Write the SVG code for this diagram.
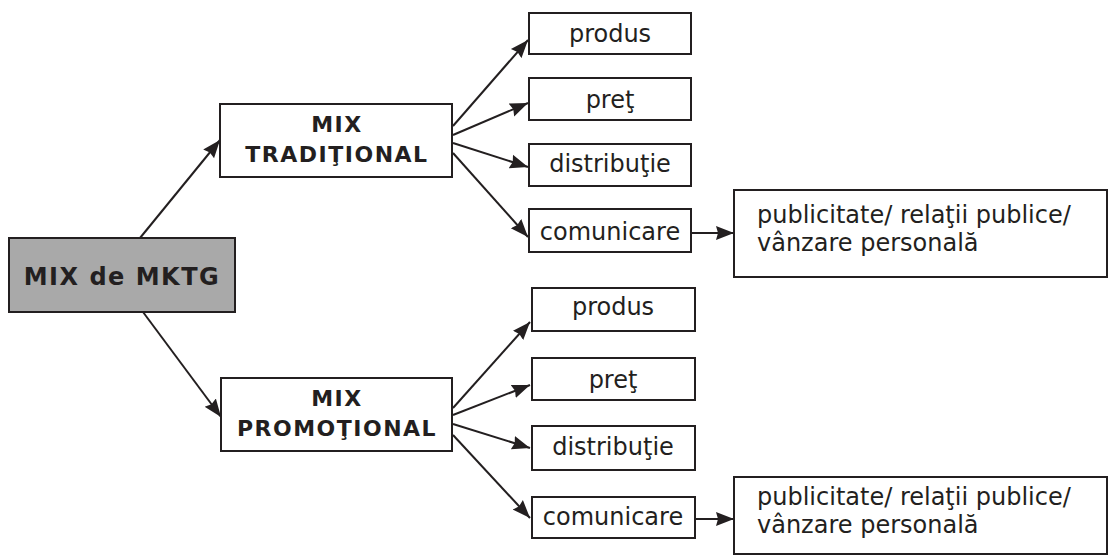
<svg xmlns="http://www.w3.org/2000/svg" width="1109" height="556" viewBox="0 0 1109 556">
<style>
.box{fill:#fff;stroke:#231f20;stroke-width:2}
.root{fill:#a9a9a9;stroke:#231f20;stroke-width:2}
.t{font-family:"DejaVu Sans","Verdana",sans-serif;font-size:24px;fill:#231f20}
.b{font-family:"DejaVu Sans","Verdana",sans-serif;font-weight:bold;font-size:22px;letter-spacing:1.5px;fill:#231f20}
.c{text-anchor:middle}
.ln{stroke:#231f20;stroke-width:2;fill:none;marker-end:url(#ah)}
</style>
<defs>
<marker id="ah" markerUnits="userSpaceOnUse" markerWidth="19" markerHeight="16" refX="18" refY="8" orient="auto">
<path d="M0,1 L18,8 L0,15 L2,8 Z" fill="#231f20"/>
</marker>
</defs>
<rect width="1109" height="556" fill="#fff"/>
<g id="connectors">
<line class="ln" x1="140" y1="238" x2="220" y2="140"/>
<line class="ln" x1="143" y1="312" x2="221" y2="417"/>
<line class="ln" x1="453" y1="126" x2="528" y2="40"/>
<line class="ln" x1="453" y1="135" x2="528" y2="103"/>
<line class="ln" x1="453" y1="143" x2="528" y2="167"/>
<line class="ln" x1="453" y1="153" x2="528" y2="237"/>
<line class="ln" x1="691" y1="233" x2="734" y2="233"/>
<line class="ln" x1="453" y1="408" x2="530" y2="322"/>
<line class="ln" x1="453" y1="415" x2="530" y2="385"/>
<line class="ln" x1="453" y1="424" x2="530" y2="448"/>
<line class="ln" x1="453" y1="435" x2="530" y2="518"/>
<line class="ln" x1="695" y1="519" x2="734" y2="519"/>
</g>
<g id="mix-mktg">
<rect class="root" x="9" y="238" width="226" height="74"/>
<text class="b c" x="122" y="285" style="font-size:24px;letter-spacing:1.5px">MIX de MKTG</text>
</g>
<g id="mix-traditional">
<rect class="box" x="220" y="104" width="232" height="73"/>
<text class="b c" x="337" y="132">MIX</text>
<text class="b c" x="337" y="162">TRADIŢIONAL</text>
</g>
<g id="mix-promotional">
<rect class="box" x="221" y="378" width="231" height="73"/>
<text class="b c" x="337" y="406">MIX</text>
<text class="b c" x="337" y="436">PROMOŢIONAL</text>
</g>
<g id="t-produs">
<rect class="box" x="529" y="13" width="162" height="41"/>
<text class="t c" x="610" y="42">produs</text>
</g>
<g id="t-pret">
<rect class="box" x="529" y="78" width="162" height="42"/>
<text class="t c" x="610" y="108">preţ</text>
</g>
<g id="t-distributie">
<rect class="box" x="529" y="144" width="162" height="42"/>
<text class="t c" x="610" y="172">distribuţie</text>
</g>
<g id="t-comunicare">
<rect class="box" x="529" y="209" width="162" height="43"/>
<text class="t c" x="610" y="240">comunicare</text>
</g>
<g id="t-publicitate">
<rect class="box" x="734" y="190" width="373" height="87"/>
<text class="t" x="757" y="223">publicitate/ relaţii publice/</text>
<text class="t" x="757" y="251">vânzare personală</text>
</g>
<g id="p-produs">
<rect class="box" x="532" y="288" width="163" height="43"/>
<text class="t c" x="613" y="315">produs</text>
</g>
<g id="p-pret">
<rect class="box" x="532" y="358" width="163" height="42"/>
<text class="t c" x="613" y="388">preţ</text>
</g>
<g id="p-distributie">
<rect class="box" x="532" y="426" width="163" height="44"/>
<text class="t c" x="613" y="455">distribuţie</text>
</g>
<g id="p-comunicare">
<rect class="box" x="532" y="497" width="163" height="41"/>
<text class="t c" x="613" y="525">comunicare</text>
</g>
<g id="p-publicitate">
<rect class="box" x="734" y="477" width="373" height="77"/>
<text class="t" x="757" y="505">publicitate/ relaţii publice/</text>
<text class="t" x="757" y="533">vânzare personală</text>
</g>
</svg>
